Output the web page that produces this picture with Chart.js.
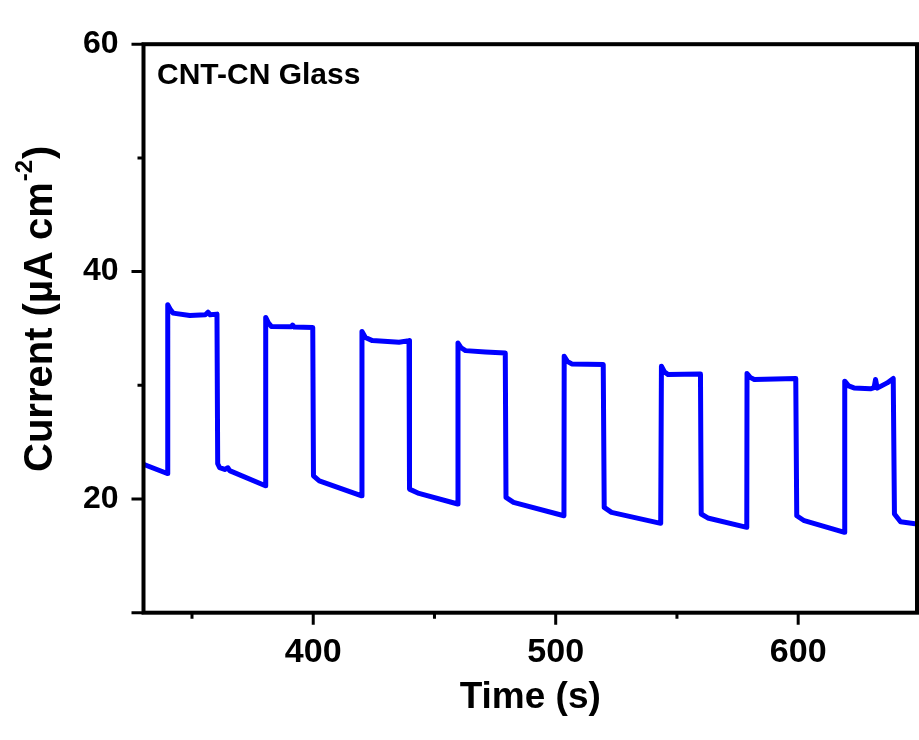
<!DOCTYPE html>
<html>
<head>
<meta charset="utf-8">
<script src="https://cdn.jsdelivr.net/npm/chart.js@4.4.1/dist/chart.umd.min.js"></script>
<style>
  body { margin: 0; background: #fff; }
  #contenedor { width: 919px; height: 740px; }
</style>
</head>
<body>
<div id="contenedor"><canvas id="graficoCorriente"></canvas></div>
<script>
// Fotocorriente con luz encendida/apagada (tiempo en s, corriente en µA cm-2)
const tiempo = [
  330.0, 339.8,
  340.0, 341.0, 342.2, 349.1, 355.5, 356.6, 357.5, 360.3,
  360.6, 361.4, 363.5, 364.8, 365.5, 380.3,
  380.4, 381.5, 382.7, 391.0, 391.5, 392.2, 399.8,
  400.1, 402.5, 420.0,
  420.1, 421.5, 424.4, 435.4, 439.5,
  439.7, 443.6, 459.6,
  459.7, 461.0, 462.8, 471.0, 479.2,
  479.5, 482.6, 503.4,
  503.5, 504.8, 506.6, 519.6,
  520.0, 523.0, 543.3,
  543.6, 544.8, 546.3, 559.7,
  560.0, 562.7, 578.8,
  578.9, 580.2, 581.9, 599.0,
  599.4, 602.5, 619.1,
  619.2, 620.8, 623.0, 629.8, 631.3, 631.9, 632.6, 636.7, 639.2,
  639.7, 642.2, 649.0
];
const corriente = [
  23.06, 22.24,
  37.08, 36.70, 36.35, 36.14, 36.20, 36.43, 36.20, 36.26,
  23.10, 22.76, 22.60, 22.75, 22.50, 21.16,
  35.97, 35.50, 35.18, 35.15, 35.30, 35.12, 35.09,
  22.04, 21.60, 20.28,
  34.74, 34.20, 33.93, 33.78, 33.93,
  20.87, 20.49, 19.56,
  33.72, 33.30, 33.05, 32.93, 32.84,
  20.14, 19.70, 18.53,
  32.55, 32.10, 31.88, 31.82,
  19.26, 18.82, 17.86,
  31.68, 31.20, 30.95, 31.00,
  18.68, 18.33, 17.51,
  31.03, 30.70, 30.51, 30.60,
  18.53, 18.09, 17.07,
  30.36, 29.95, 29.77, 29.69, 29.80, 30.51, 29.75, 30.21, 30.60,
  18.68, 18.00, 17.80
];

const ticksX = [350, 400, 450, 500, 550, 600];
const etiquetasX = [400, 500, 600];
const ticksY = [10, 20, 30, 40, 50, 60];
const etiquetasY = [20, 40, 60];

const fuente = "'Liberation Sans', Arial, sans-serif";
Chart.defaults.font.family = fuente;
Chart.defaults.color = "#000";

// marco negro, marcas de los ejes y textos extra
const marco = {
  id: "marco",
  afterDatasetsDraw(chart) {
    const { ctx, chartArea: a, scales } = chart;
    ctx.save();
    ctx.strokeStyle = "#000";
    ctx.lineWidth = 4;
    ctx.strokeRect(a.left, a.top, a.right - a.left, a.bottom - a.top);

    ctx.lineWidth = 3;
    ctx.beginPath();
    scales.x.ticks.forEach(t => {
      const px = scales.x.getPixelForValue(t.value);
      const largo = etiquetasX.includes(t.value) ? 12 : 6;
      ctx.moveTo(px, a.bottom);
      ctx.lineTo(px, a.bottom + largo);
    });
    scales.y.ticks.forEach(t => {
      const py = scales.y.getPixelForValue(t.value);
      const largo = etiquetasY.includes(t.value) || t.value === 10 ? 12 : 6;
      ctx.moveTo(a.left, py);
      ctx.lineTo(a.left - largo, py);
    });
    ctx.stroke();

    ctx.fillStyle = "#000";
    ctx.textBaseline = "alphabetic";
    ctx.textAlign = "left";
    ctx.font = "bold 30px " + fuente;
    ctx.fillText("CNT-CN Glass", 157, 84);

    // título del eje Y con superíndice
    ctx.translate(52, 472);
    ctx.rotate(-Math.PI / 2);
    ctx.font = "bold 40px " + fuente;
    const base = "Current (\u00b5A cm";
    ctx.fillText(base, 0, 0);
    let w = ctx.measureText(base).width;
    ctx.font = "bold 24px " + fuente;
    ctx.fillText("-2", w + 1, -20);
    w += ctx.measureText("-2").width + 2;
    ctx.font = "bold 40px " + fuente;
    ctx.fillText(")", w, 0);
    ctx.restore();
  }
};

const ctx = document.getElementById("graficoCorriente").getContext("2d");
new Chart(ctx, {
  type: "line",
  data: {
    datasets: [{
      data: tiempo.map((t, i) => ({ x: t, y: corriente[i] })),
      borderColor: "#0000ff",
      borderWidth: 5,
      pointRadius: 0,
      tension: 0,
      fill: false,
      borderJoinStyle: "round",
      borderCapStyle: "round"
    }]
  },
  options: {
    responsive: true,
    maintainAspectRatio: false,
    animation: false,
    layout: { padding: { top: 41.7, right: 2, bottom: 0, left: 0 } },
    plugins: { legend: { display: false }, tooltip: { enabled: false } },
    scales: {
      x: {
        type: "linear",
        min: 330,
        max: 649,
        afterFit: s => { s.height = 127.3; },
        afterBuildTicks: s => { s.ticks = ticksX.map(v => ({ value: v })); },
        grid: { display: false, drawTicks: false },
        border: { display: false },
        ticks: {
          padding: 20,
          autoSkip: false,
          maxRotation: 0,
          font: { size: 34, weight: "bold" },
          callback: v => etiquetasX.includes(v) ? v : ""
        },
        title: {
          display: true,
          text: "Time (s)",
          font: { size: 37, weight: "bold" },
          padding: { top: 0, bottom: 20 }
        }
      },
      y: {
        min: 10,
        max: 60,
        afterFit: s => { s.width = 143.5; },
        afterBuildTicks: s => { s.ticks = ticksY.map(v => ({ value: v })); },
        grid: { display: false, drawTicks: false },
        border: { display: false },
        ticks: {
          padding: 25,
          autoSkip: false,
          font: { size: 32, weight: "bold" },
          callback: v => etiquetasY.includes(v) ? v : ""
        }
      }
    }
  },
  plugins: [marco]
});
</script>
</body>
</html>
